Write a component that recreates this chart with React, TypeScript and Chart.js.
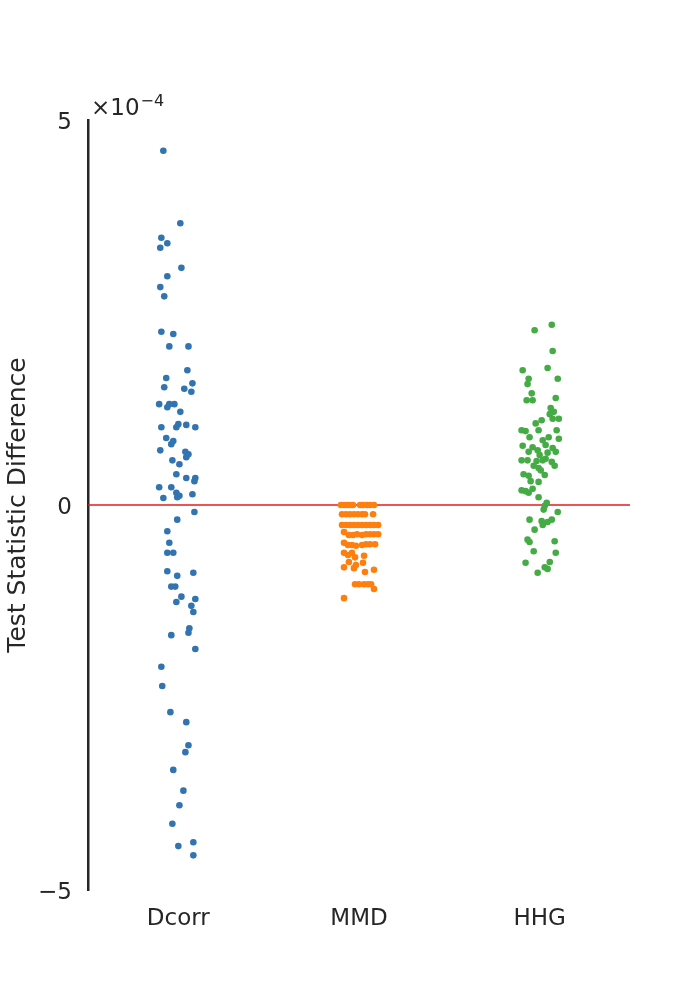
import React, { useEffect, useRef } from "react";
import { Chart, registerables } from "chart.js";

Chart.register(...registerables);

const categories = ["Dcorr", "MMD", "HHG"];
const yTicks = [-5, 0, 5];
const offsetLabel = "×10";
const offsetExp = "−4";
const yTitle = "Test Statistic Difference";

// [jitter offset, value (×1e-4)]
const dcorr: [number, number][] = [
  [-0.083, 4.6], [0.011, 3.66], [-0.094, 3.47], [-0.061, 3.4], [-0.1, 3.34], [0.017, 3.08],
  [-0.061, 2.97], [-0.1, 2.83], [-0.078, 2.71], [-0.094, 2.25], [-0.028, 2.22], [-0.05, 2.06],
  [0.056, 2.06], [0.05, 1.75], [-0.067, 1.65], [0.078, 1.58], [-0.078, 1.53], [0.033, 1.51],
  [0.072, 1.47], [-0.106, 1.31], [-0.05, 1.31], [-0.061, 1.27], [-0.022, 1.31], [0.011, 1.21],
  [-0.094, 1.01], [-0.011, 1.01], [0.0, 1.05], [0.094, 1.01], [0.044, 1.04], [-0.067, 0.87],
  [-0.028, 0.83], [-0.039, 0.79], [0.056, 0.66], [0.039, 0.69], [-0.1, 0.71], [0.006, 0.53],
  [-0.033, 0.58], [0.044, 0.62], [-0.011, 0.4], [0.044, 0.35], [0.094, 0.35], [0.089, 0.31],
  [-0.106, 0.23], [-0.039, 0.23], [-0.011, 0.16], [0.006, 0.12], [-0.006, 0.1], [0.078, 0.14],
  [-0.083, 0.09], [0.089, -0.09], [-0.006, -0.19], [-0.061, -0.34], [-0.05, -0.49],
  [-0.061, -0.62], [-0.028, -0.62], [-0.061, -0.86], [-0.006, -0.92], [0.083, -0.88],
  [-0.039, -1.06], [-0.017, -1.06], [0.017, -1.19], [-0.011, -1.26], [0.094, -1.22],
  [0.072, -1.31], [0.083, -1.39], [0.061, -1.6], [0.056, -1.66], [-0.039, -1.69],
  [0.094, -1.87], [-0.094, -2.1], [-0.089, -2.35], [-0.044, -2.69], [0.044, -2.82],
  [0.056, -3.12], [0.039, -3.21], [-0.028, -3.44], [0.028, -3.71], [0.006, -3.9],
  [-0.033, -4.14], [0.083, -4.38], [0.0, -4.43], [0.083, -4.55],
];

const mmd: [number, number][] = [
  [-0.1, 0.0], [-0.083, 0.0], [-0.067, 0.0], [-0.05, 0.0], [-0.033, 0.0], [0.006, 0.0],
  [0.022, 0.0], [0.044, 0.0], [0.061, 0.0], [0.083, 0.0],
  [-0.094, -0.12], [-0.072, -0.12], [-0.05, -0.12], [-0.028, -0.12], [-0.006, -0.12],
  [0.017, -0.12], [0.033, -0.12], [0.078, -0.12],
  [-0.094, -0.26], [-0.072, -0.26], [-0.05, -0.26], [-0.028, -0.26], [-0.006, -0.26],
  [0.017, -0.26], [0.039, -0.26], [0.061, -0.26], [0.083, -0.26], [0.106, -0.26],
  [-0.083, -0.35], [-0.056, -0.39], [-0.033, -0.39], [-0.011, -0.38], [0.017, -0.39],
  [0.039, -0.38], [0.061, -0.38], [0.083, -0.38], [0.106, -0.38],
  [-0.083, -0.49], [-0.061, -0.52], [-0.039, -0.52], [-0.017, -0.53], [0.017, -0.52],
  [0.039, -0.51], [0.061, -0.51], [0.089, -0.51],
  [-0.083, -0.62], [-0.061, -0.65], [-0.039, -0.62], [-0.022, -0.68], [0.028, -0.66],
  [-0.083, -0.81], [-0.056, -0.74], [-0.028, -0.82], [-0.017, -0.78], [0.022, -0.75],
  [0.033, -0.87], [0.083, -0.84],
  [-0.022, -1.03], [0.0, -1.03], [0.028, -1.03], [0.05, -1.03], [0.067, -1.03],
  [0.083, -1.09], [-0.083, -1.21],
];

const hhg: [number, number][] = [
  [0.067, 2.34], [-0.028, 2.27], [0.072, 2.0], [0.044, 1.78], [-0.094, 1.75], [0.1, 1.64],
  [-0.061, 1.64], [-0.067, 1.57], [-0.044, 1.45], [0.089, 1.39], [-0.072, 1.36], [-0.039, 1.36],
  [0.061, 1.26], [0.078, 1.21], [0.056, 1.18], [0.011, 1.1], [0.106, 1.12], [0.072, 1.12],
  [-0.022, 1.06], [-0.1, 0.97], [-0.078, 0.96], [-0.006, 0.97], [0.094, 0.97], [-0.056, 0.88],
  [0.017, 0.84], [0.05, 0.88], [0.106, 0.86], [-0.094, 0.77], [-0.039, 0.75], [0.033, 0.78],
  [-0.011, 0.71], [0.072, 0.74], [-0.061, 0.69], [0.0, 0.65], [0.044, 0.68], [0.089, 0.69],
  [-0.1, 0.58], [-0.067, 0.58], [-0.017, 0.57], [0.017, 0.58], [0.033, 0.6], [0.067, 0.56],
  [-0.033, 0.51], [-0.006, 0.48], [0.083, 0.51], [0.006, 0.45], [-0.089, 0.4], [-0.061, 0.38],
  [0.028, 0.39], [-0.05, 0.31], [-0.006, 0.3], [-0.1, 0.19], [-0.078, 0.18], [-0.039, 0.21],
  [-0.061, 0.16], [-0.006, 0.1], [0.039, 0.03], [0.028, -0.01], [0.022, -0.06], [0.1, -0.09],
  [-0.056, -0.19], [0.011, -0.21], [0.067, -0.19], [0.044, -0.22], [0.017, -0.26],
  [-0.028, -0.32], [-0.067, -0.45], [-0.056, -0.48], [0.083, -0.47], [-0.033, -0.6],
  [0.089, -0.62], [-0.078, -0.75], [0.056, -0.74], [0.028, -0.81], [0.044, -0.83], [-0.011, -0.88],
];

const seriesColors = ["#3274b0", "#ff7f0e", "#45ab45"];
const FONT = "'DejaVu Sans', sans-serif";
const TEXT = "#262626";

export default function App() {
  const ref = useRef<HTMLCanvasElement>(null);

  useEffect(() => {
    if (!ref.current) return;
    const all = [dcorr, mmd, hhg];
    const toPts = (arr: [number, number][], i: number) => arr.map(([o, v]) => ({ x: i + o, y: v }));

    const offsetPlugin = {
      id: "offsetText",
      afterDraw(chart: any) {
        const { ctx, chartArea } = chart;
        ctx.save();
        ctx.fillStyle = TEXT;
        ctx.textBaseline = "alphabetic";
        ctx.textAlign = "left";
        ctx.font = `23px ${FONT}`;
        const x0 = chartArea.left + 3;
        const yb = chartArea.top - 5;
        ctx.fillText(offsetLabel, x0, yb);
        const w = ctx.measureText(offsetLabel).width;
        ctx.font = `16px ${FONT}`;
        ctx.fillText(offsetExp, x0 + w + 1, yb - 9);
        ctx.restore();
      },
    };

    const chart = new Chart(ref.current, {
      type: "scatter",
      data: {
        datasets: [
          {
            type: "line",
            data: [{ x: -0.5, y: 0 }, { x: 2.5, y: 0 }],
            borderColor: "#e41a1c",
            borderWidth: 1.3,
            pointRadius: 0,
            order: 10,
          } as any,
          ...all.map((arr, i) => ({
            data: toPts(arr, i),
            backgroundColor: seriesColors[i],
            borderColor: seriesColors[i],
            borderWidth: 0,
            pointRadius: 3.3,
            order: 1,
          })),
        ],
      },
      options: {
        animation: false,
        responsive: false,
        devicePixelRatio: 1,
        layout: { padding: { top: 120, right: 70, left: 0, bottom: 0 } },
        plugins: { legend: { display: false }, tooltip: { enabled: false } },
        scales: {
          x: {
            type: "linear",
            min: -0.5,
            max: 2.5,
            grid: { display: false },
            border: { display: false },
            afterBuildTicks: (scale: any) => {
              scale.ticks = categories.map((_, i) => ({ value: i }));
            },
            afterFit: (scale: any) => {
              scale.height = 110;
            },
            ticks: {
              callback: (v: any) => categories[Number(v)] ?? "",
              font: { family: FONT, size: 23 },
              color: TEXT,
              padding: 7,
              maxRotation: 0,
            },
          },
          y: {
            min: -5,
            max: 5,
            grid: { display: false },
            border: { display: true, color: TEXT, width: 2.5 },
            afterBuildTicks: (scale: any) => {
              scale.ticks = yTicks.map((v) => ({ value: v }));
            },
            afterFit: (scale: any) => {
              scale.width = 88;
            },
            ticks: {
              callback: (v: any) => String(v).replace("-", "\u2212"),
              font: { family: FONT, size: 23 },
              color: TEXT,
              padding: 8,
              labelOffset: 3,
            },
            title: {
              display: true,
              text: yTitle,
              font: { family: FONT, size: 25 },
              color: TEXT,
              padding: { top: 3, bottom: 0 },
            },
          },
        },
      },
      plugins: [offsetPlugin],
    });
    return () => chart.destroy();
  }, []);

  return (
    <div style={{ position: "absolute", left: 0, top: 0, width: 700, height: 1000, background: "#fff" }}>
      <canvas ref={ref} width={700} height={1000} style={{ width: 700, height: 1000 }} />
    </div>
  );
}
